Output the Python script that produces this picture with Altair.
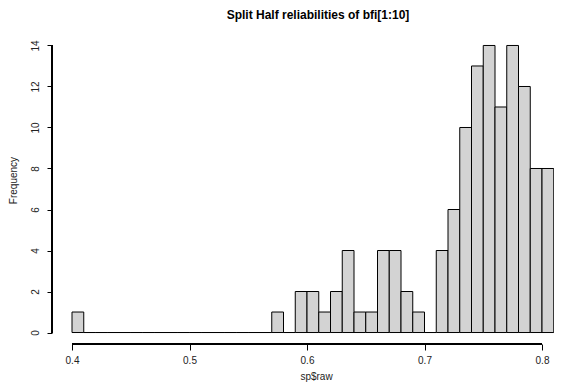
import altair as alt
import pandas as pd

bin_left = [round(0.40 + 0.01 * i, 2) for i in range(41)]
counts = [1] + [0] * 16 + [1, 0, 2, 2, 1, 2, 4, 1, 1, 4, 4, 2, 1, 0, 4, 6, 10, 13, 14, 11, 14, 12, 8, 8]
x_ticks = [0.4, 0.5, 0.6, 0.7, 0.8]
y_ticks = [0, 2, 4, 6, 8, 10, 12, 14]

df = pd.DataFrame({"lo": bin_left, "hi": [round(b + 0.01, 2) for b in bin_left], "n": counts})

FONT = "Liberation Sans"
W, H = 502, 310
PX = 1175.0
x0 = 0.4 - 20 / PX
xs = alt.Scale(domain=[x0, x0 + W / PX], nice=False, zero=False)
ys = alt.Scale(domain=[-0.56, 14.56], nice=False, zero=False)

bars = alt.Chart(df).mark_rect(fill="#D3D3D3", stroke="black", strokeWidth=1, clip=True).encode(
    x=alt.X("lo:Q", scale=xs, axis=alt.Axis(
        values=x_ticks, domain=False, grid=False, tickSize=6, tickColor="black", tickWidth=1,
        labelFont=FONT, labelFontSize=10, labelColor="#222", labelPadding=5, labelFlush=False,
        labelExpr="format(datum.value, '.1f')",
        title="sp$raw", titleFont=FONT, titleFontSize=10, titleFontWeight="normal", titleColor="#222",
        titleX=264, titleY=35, titleBaseline="alphabetic", titleAlign="center")),
    x2="hi:Q",
    y=alt.Y("n:Q", scale=ys, axis=alt.Axis(
        values=y_ticks, domain=False, grid=False, tickSize=5, tickColor="black", tickWidth=1,
        labelFont=FONT, labelFontSize=10, labelColor="#222", labelAngle=270, labelAlign="center",
        labelBaseline="bottom", labelPadding=7, labelFlush=False,
        title="Frequency", titleFont=FONT, titleFontSize=10, titleFontWeight="normal", titleColor="#222",
        titleAngle=270, titleX=-36, titleY=146, titleBaseline="alphabetic", titleAlign="center")),
    y2=alt.datum(0),
)

xline = alt.Chart(df).mark_rule(color="black", strokeWidth=1).encode(
    x=alt.datum(0.4, scale=xs), x2=alt.datum(0.8), y=alt.value(H)
)
yline = alt.Chart(df).mark_rule(color="black", strokeWidth=1).encode(
    y=alt.datum(0, scale=ys), y2=alt.datum(14), x=alt.value(0)
)

chart = alt.layer(bars, xline, yline).properties(
    width=W, height=H,
    autosize=alt.AutoSizeParams(type="none"),
    padding={"left": 44, "top": 26, "right": 0, "bottom": 38},
    title=alt.TitleParams("Split Half reliabilities of bfi[1:10]", font=FONT, fontSize=12,
                          fontWeight="bold", color="black", anchor="middle", dx=15,
                          baseline="alphabetic", offset=3),
).configure_view(stroke=None)

chart.save("out.html", embed_options={"renderer": "svg", "actions": False})
